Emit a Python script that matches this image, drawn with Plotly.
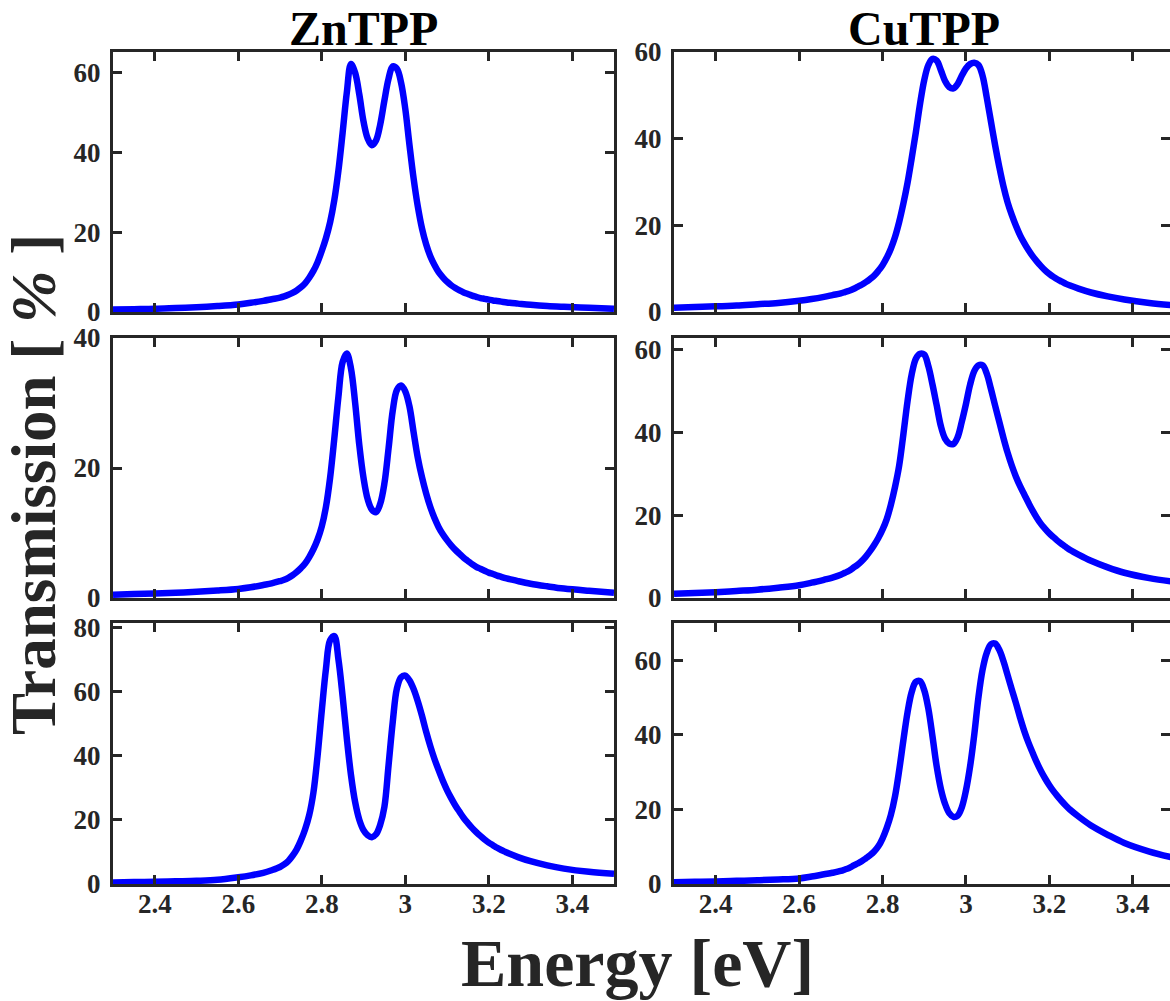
import plotly.graph_objects as go

# ---------------- data ----------------
energy = [2.30, 2.35, 2.40, 2.45, 2.50, 2.55, 2.60, 2.63, 2.66, 2.68,
          2.70, 2.71, 2.72, 2.73, 2.74, 2.75, 2.76, 2.77, 2.78, 2.79,
          2.80, 2.81, 2.82, 2.83, 2.84, 2.85, 2.86, 2.87, 2.88, 2.89,
          2.90, 2.91, 2.92, 2.93, 2.94, 2.95, 2.96, 2.97, 2.98, 2.99,
          3.00, 3.01, 3.02, 3.03, 3.04, 3.05, 3.06, 3.07, 3.08, 3.09,
          3.10, 3.11, 3.12, 3.13, 3.14, 3.15, 3.16, 3.17, 3.18, 3.19,
          3.20, 3.21, 3.22, 3.23, 3.24, 3.25,
          3.27, 3.30, 3.34, 3.38, 3.44, 3.50]

zntpp_1 = [0.6, 0.7, 0.8, 1.0, 1.2, 1.5, 1.9, 2.3, 2.8, 3.2,
           3.6, 3.9, 4.3, 4.8, 5.4, 6.2, 7.2, 8.6, 10.3, 12.5,
           15.3, 18.5, 22.5, 28.0, 35.5, 45.0, 55.0, 62.2, 60.0, 54.5,
           47.8, 43.5, 41.8, 43.0, 47.0, 53.0, 58.5, 61.6, 61.0, 57.5,
           51.0, 42.0, 33.5, 26.5, 21.0, 17.0, 14.0, 11.8, 10.0, 8.7,
           7.6, 6.7, 6.0, 5.4, 4.9, 4.5, 4.1, 3.8, 3.5, 3.3,
           3.1, 2.9, 2.75, 2.6, 2.45, 2.3,
           2.1, 1.8, 1.5, 1.3, 1.05, 0.8]

cutpp_1 = [1.0, 1.15, 1.3, 1.5, 1.8, 2.1, 2.6, 3.0, 3.5, 3.9,
           4.3, 4.6, 4.9, 5.3, 5.8, 6.3, 6.9, 7.6, 8.4, 9.5,
           10.8, 12.5, 14.6, 17.3, 20.8, 25.0, 29.8, 35.5, 41.5, 48.0,
           53.5, 57.0, 58.4, 58.0, 55.8, 53.3, 51.9, 51.6, 52.6, 54.5,
           56.2, 57.2, 57.5, 57.0, 54.5, 49.5, 44.0, 38.5, 33.5, 29.0,
           25.3, 22.4, 19.9, 17.7, 15.9, 14.3, 12.9, 11.7, 10.6, 9.6,
           8.8, 8.1, 7.5, 7.0, 6.5, 6.1,
           5.4, 4.5, 3.6, 2.9, 2.1, 1.5]

zntpp_2 = [0.5, 0.6, 0.7, 0.8, 0.95, 1.15, 1.4, 1.65, 2.0, 2.25,
           2.6, 2.8, 3.1, 3.5, 4.0, 4.6, 5.3, 6.3, 7.5, 9.0,
           11.0, 14.0, 18.5, 24.5, 31.0, 36.3, 37.6, 35.3, 30.0, 23.5,
           18.5, 15.2, 13.6, 13.2, 14.5, 17.6, 23.0, 28.8, 32.0, 32.7,
           31.8, 29.5, 25.5, 21.6, 18.6, 16.1, 14.0, 12.3, 10.9, 9.8,
           8.9, 8.1, 7.4, 6.8, 6.2, 5.7, 5.2, 4.8, 4.5, 4.2,
           3.9, 3.7, 3.45, 3.25, 3.05, 2.9,
           2.6, 2.2, 1.8, 1.45, 1.1, 0.8]

cutpp_2 = [1.0, 1.2, 1.4, 1.7, 2.0, 2.5, 3.1, 3.7, 4.4, 4.9,
           5.6, 6.1, 6.6, 7.3, 8.0, 8.9, 10.0, 11.3, 12.8, 14.5,
           16.5, 19.0, 22.5, 26.8, 32.0, 39.5, 47.5, 54.0, 57.8, 59.0,
           58.8, 56.0, 51.5, 46.5, 41.5, 38.5, 37.3, 37.2, 38.8, 42.5,
           46.8, 51.5, 54.8, 56.2, 56.2, 54.2, 50.5, 46.5, 42.6, 38.7,
           35.1, 32.0, 29.3, 27.0, 25.0, 23.0, 21.1, 19.4, 17.9, 16.7,
           15.6, 14.7, 13.8, 13.0, 12.3, 11.6,
           10.5, 9.0, 7.4, 6.1, 4.8, 3.9]

zntpp_3 = [0.5, 0.6, 0.7, 0.85, 1.0, 1.3, 2.1, 2.7, 3.5, 4.3,
           5.3, 6.1, 7.2, 8.8, 10.8, 13.6, 17.0, 21.5, 28.5, 40.0,
           54.0, 67.0, 76.0, 77.3, 70.0, 58.5, 45.5, 34.0, 25.5, 20.0,
           16.8, 15.2, 14.6, 15.5, 18.5, 24.0, 37.0, 50.5, 61.0, 64.5,
           65.0, 63.5, 60.8, 57.0, 52.5, 47.5, 43.0, 39.0, 35.5, 32.2,
           29.3, 26.8, 24.5, 22.5, 20.6, 19.0, 17.5, 16.2, 15.0, 13.9,
           12.9, 12.1, 11.3, 10.6, 10.0, 9.4,
           8.4, 7.1, 5.8, 4.8, 3.8, 3.2]

cutpp_3 = [0.5, 0.6, 0.7, 0.85, 1.0, 1.2, 1.5, 2.0, 2.6, 3.0,
           3.5, 3.9, 4.3, 4.9, 5.5, 6.1, 6.9, 7.7, 8.7, 10.1,
           12.2, 15.0, 18.5, 23.5, 30.5, 38.5, 46.0, 51.5, 54.2, 54.4,
           52.0, 47.0, 39.5, 31.5, 25.5, 21.5, 19.0, 18.0, 18.3, 20.5,
           25.0, 31.5, 40.0, 50.0, 57.5, 62.0, 64.3, 64.5, 62.8, 59.8,
           56.0, 52.2, 48.5, 44.6, 41.0, 37.9, 35.2, 32.6, 30.3, 28.3,
           26.5, 24.9, 23.5, 22.2, 21.0, 19.9,
           18.1, 15.7, 13.2, 11.0, 8.7, 7.0]

col_titles = ["ZnTPP", "CuTPP"]
x_tickvals = [2.4, 2.6, 2.8, 3.0, 3.2, 3.4]
x_ticktext = ["2.4", "2.6", "2.8", "3", "3.2", "3.4"]
y_tickvals = [0, 20, 40, 60, 80]
y_tops = [65.2, 60.0, 40.0, 62.8, 81.4, 70.0]

series = [zntpp_1, cutpp_1, zntpp_2, cutpp_2, zntpp_3, cutpp_3]

# ---------------- layout geometry ----------------
W, H = 1170, 1001
PX_PER_EV = 417.0
col_px = [(113, 614), (674, 1170)]
col_xrange = [[2.3, 3.5], [2.3, 2.3 + (1170 - 674) / PX_PER_EV]]
row_px = [(52, 312), (338, 598), (623, 884)]

FONT = "Liberation Serif"
AX = "#262626"

fig = go.Figure()
layout = dict(width=W, height=H, margin=dict(l=0, r=0, t=0, b=0, autoexpand=False),
              plot_bgcolor="white", paper_bgcolor="white", showlegend=False)

for i, ty in enumerate(series):
    r, c = divmod(i, 2)
    n = i + 1
    xs = "x" if n == 1 else f"x{n}"
    ys = "y" if n == 1 else f"y{n}"
    fig.add_trace(go.Scatter(x=energy, y=ty, mode="lines", xaxis=xs, yaxis=ys,
                             line=dict(color="#0000FF", width=6.5, shape="spline", smoothing=1.0)))
    x0, x1 = col_px[c]
    y0, y1 = row_px[r]
    common = dict(showline=True, linewidth=3, linecolor=AX, mirror="ticks",
                  ticks="inside", ticklen=9, tickwidth=3, tickcolor=AX,
                  showgrid=False, zeroline=False, automargin=False,
                  tickfont=dict(family=FONT, size=27, color=AX, weight="bold"))
    layout[f"xaxis{'' if n == 1 else n}"] = dict(
        domain=[x0 / W, x1 / W], range=col_xrange[c], anchor=ys,
        tickvals=x_tickvals, ticktext=x_ticktext, showticklabels=(r == 2),
        ticklabelstandoff=-6, **common)
    layout[f"yaxis{'' if n == 1 else n}"] = dict(
        domain=[1 - y1 / H, 1 - y0 / H], range=[0, y_tops[i]], anchor=xs,
        tickvals=y_tickvals, ticklabelstandoff=4, **common)

fig.update_layout(**layout)

ann = []
for c, t in enumerate(col_titles):
    cx = col_px[c][0] + 0.6 * PX_PER_EV
    ann.append(dict(text=t, x=cx / W, y=1.0, xref="paper", yref="paper",
                    showarrow=False, xanchor="center", yanchor="top",
                    font=dict(family=FONT, size=48, color="black", weight="bold")))
ann.append(dict(text="Energy [eV]", x=637.5 / W, y=1 - 963 / H, xref="paper", yref="paper",
                showarrow=False, xanchor="center", yanchor="middle",
                font=dict(family=FONT, size=68, color=AX, weight="bold")))
ann.append(dict(text="Transmission [ <i>%</i> ]", x=34 / W, y=1 - 485 / H, xref="paper", yref="paper",
                showarrow=False, xanchor="center", yanchor="middle", textangle=-90,
                font=dict(family=FONT, size=63, color=AX, weight="bold")))
fig.update_layout(annotations=ann)

fig.write_html("out.html")
